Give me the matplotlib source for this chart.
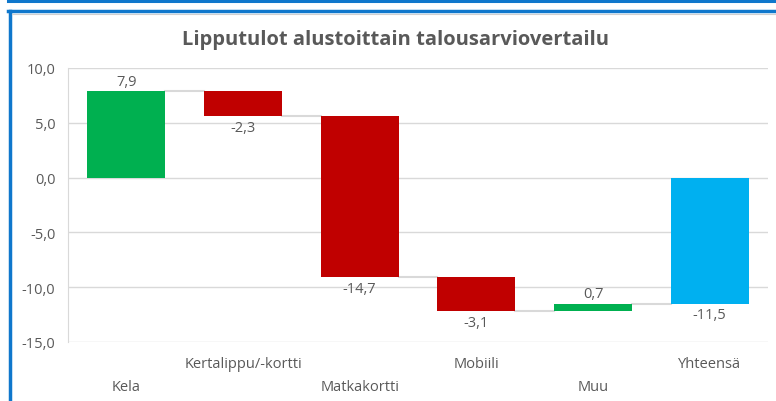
import matplotlib.pyplot as plt
from matplotlib.lines import Line2D
from matplotlib.ticker import FuncFormatter
import matplotlib.transforms as mtransforms

categories = ['Kela', 'Kertalippu/-kortti', 'Matkakortti', 'Mobiili', 'Muu', 'Yhteensä']
changes = [7.9, -2.3, -14.7, -3.1, 0.7]
total = -11.5

GREEN = '#00B050'
RED = '#C00000'
BLUE = '#00B0F0'
GREY_TXT = '#595959'
GRID = '#D9D9D9'
FS = 10.5

plt.rcParams['font.family'] = ['Open Sans', 'DejaVu Sans']

fig = plt.figure(figsize=(7.76, 4.02), dpi=100)
ax = fig.add_axes([68 / 776, 59 / 402, 700 / 776, 274 / 402])

# waterfall bars
width = 0.67
starts = []
level = 0.0
for v in changes:
    starts.append(level)
    level += v
ends = [s + v for s, v in zip(starts, changes)]

for i, (s, v) in enumerate(zip(starts, changes)):
    color = GREEN if v >= 0 else RED
    ax.bar(i, v, bottom=s, width=width, color=color, zorder=3)
    lbl = f'{v:.1f}'.replace('.', ',')
    if v >= 0:
        ax.text(i, s + v + 0.2, lbl, ha='center', va='bottom', color=GREY_TXT, fontsize=FS)
    else:
        ax.text(i, s + v - 0.35, lbl, ha='center', va='top', color=GREY_TXT, fontsize=FS)

n = len(changes)
ax.bar(n, total, width=width, color=BLUE, zorder=3)
ax.text(n, total - 0.35, f'{total:.1f}'.replace('.', ','), ha='center', va='top',
        color=GREY_TXT, fontsize=FS)

# connectors
for i in range(n):
    ax.plot([i + width / 2, i + 1 - width / 2], [ends[i], ends[i]],
            color=GRID, lw=1.5, zorder=2)

ax.set_xlim(-0.5, n + 0.5)
ax.set_ylim(-15, 10)
ax.set_yticks([10, 5, 0, -5, -10, -15])
ax.yaxis.set_major_formatter(FuncFormatter(lambda y, p: f'{y:.1f}'.replace('.', ',')))
ax.tick_params(axis='y', length=0, labelsize=FS, labelcolor=GREY_TXT, pad=9)
ax.set_xticks([])
ax.grid(axis='y', color=GRID, lw=1, zorder=0)
for s in ['top', 'right', 'bottom']:
    ax.spines[s].set_visible(False)
ax.spines['left'].set_color(GRID)

# staggered category labels
trans = mtransforms.blended_transform_factory(ax.transData, fig.transFigure)
for i, c in enumerate(categories):
    y = (402 - 388) / 402 if i % 2 == 0 else (402 - 365) / 402
    ax.text(i, y, c, transform=trans, ha='center', va='center', color=GREY_TXT, fontsize=FS)

fig.text(396 / 776, 1 - 40 / 402, 'Lipputulot alustoittain talousarviovertailu',
         ha='center', va='center', fontsize=14.5, fontweight='bold', color=GREY_TXT)

# blue frame
fig.add_artist(Line2D([8 / 776, 1], [1 - 1.5 / 402] * 2, color='#0F77CC', lw=2.2))
fig.add_artist(Line2D([8 / 776, 1], [1 - 12 / 402] * 2, color='#0F77CC', lw=2.5))
fig.add_artist(Line2D([10 / 776] * 2, [0, 1 - 12 / 402], color='#0F77CC', lw=2.5))
fig.add_artist(Line2D([12 / 776, 1], [1 - 14.5 / 402] * 2, color='#D0D0D0', lw=0.8))

fig.savefig('out.png', dpi=100)
